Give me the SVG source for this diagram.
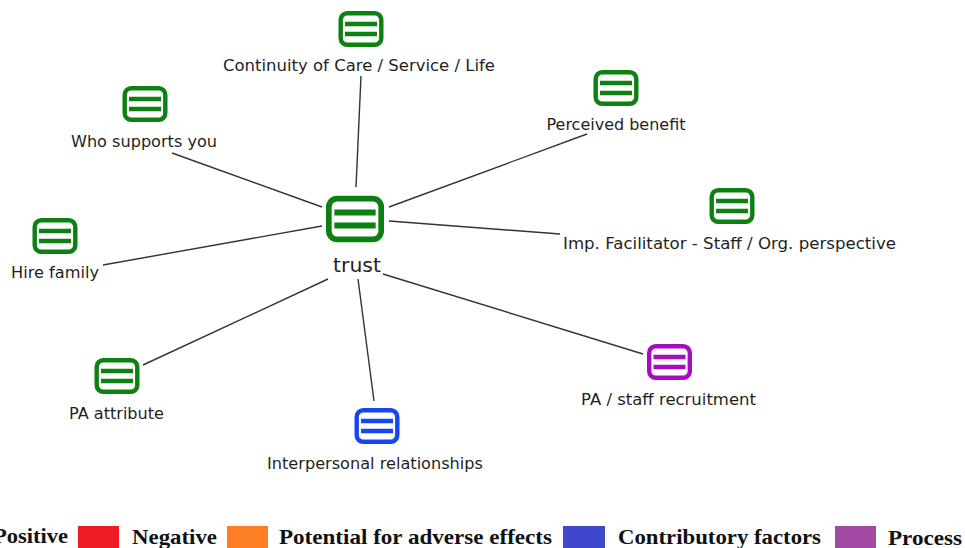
<svg xmlns="http://www.w3.org/2000/svg" width="965" height="548" viewBox="0 0 965 548">
<defs>
<style>
.l{fill:#1f1f1f;font-family:"DejaVu Sans",Verdana,sans-serif;font-size:16.300px;text-anchor:middle}
.k{fill:#111;font-family:"Liberation Serif",serif;font-size:21.500px;font-weight:bold}
.c line{stroke:#333;stroke-width:1.400}
.b{fill:#fff;stroke-width:4.400}
.g{stroke:#0c8010}.u{stroke:#1546f0}.p{stroke:#a80cc0}
</style>
<g id="ic"><rect class="b" x="-20.300" y="-15.800" width="40.600" height="31.600" rx="6.500"/><path d="M-16-5H16M-16 5H16" stroke-width="4.600" fill="none"/></g>
</defs>
<rect width="965" height="548" fill="#fff"/>
<g id="connectors" class="c">
<line x1="361" y1="76" x2="356" y2="187"/>
<line x1="172" y1="153" x2="322" y2="207"/>
<line x1="587" y1="134" x2="389" y2="207"/>
<line x1="389" y1="221" x2="560" y2="234"/>
<line x1="103" y1="265" x2="322" y2="226"/>
<line x1="143" y1="365" x2="328" y2="279"/>
<line x1="358" y1="279" x2="374" y2="401"/>
<line x1="383" y1="274" x2="643" y2="354"/>
</g>
<g id="n-trust"><g class="g"><use href="#ic" transform="translate(355 219) scale(1.290)"/></g><text class="l" x="357" y="272" style="font-size:20px" textLength="48" lengthAdjust="spacingAndGlyphs">trust</text></g>
<g id="n-continuity"><g class="g"><use href="#ic" transform="translate(361 29)"/></g><text class="l" x="359" y="71" textLength="272" lengthAdjust="spacingAndGlyphs">Continuity of Care / Service / Life</text></g>
<g id="n-who"><g class="g"><use href="#ic" transform="translate(145 104)"/></g><text class="l" x="144" y="147" textLength="146" lengthAdjust="spacingAndGlyphs">Who supports you</text></g>
<g id="n-benefit"><g class="g"><use href="#ic" transform="translate(616 88)"/></g><text class="l" x="616" y="130" textLength="139" lengthAdjust="spacingAndGlyphs">Perceived benefit</text></g>
<g id="n-imp"><g class="g"><use href="#ic" transform="translate(732 206)"/></g><text class="l" x="729.500" y="249" textLength="333" lengthAdjust="spacingAndGlyphs">Imp. Facilitator - Staff / Org. perspective</text></g>
<g id="n-hire"><g class="g"><use href="#ic" transform="translate(55 236)"/></g><text class="l" x="55" y="278" textLength="88" lengthAdjust="spacingAndGlyphs">Hire family</text></g>
<g id="n-pa"><g class="g"><use href="#ic" transform="translate(117 376)"/></g><text class="l" x="116.500" y="419" textLength="95" lengthAdjust="spacingAndGlyphs">PA attribute</text></g>
<g id="n-inter"><g class="u"><use href="#ic" transform="translate(377 426)"/></g><text class="l" x="375" y="469" textLength="216" lengthAdjust="spacingAndGlyphs">Interpersonal relationships</text></g>
<g id="n-recruit"><g class="p"><use href="#ic" transform="translate(669.500 362)"/></g><text class="l" x="668.500" y="405" textLength="175" lengthAdjust="spacingAndGlyphs">PA / staff recruitment</text></g>
<g id="legend">
<text class="k" x="-7" y="543" textLength="75" lengthAdjust="spacingAndGlyphs">Positive</text>
<rect x="78" y="526" width="41" height="22" fill="#ee1c25"/><text class="k" x="132" y="544" textLength="85" lengthAdjust="spacingAndGlyphs">Negative</text>
<rect x="227" y="526" width="41" height="22" fill="#fd7f23"/><text class="k" x="279" y="544" textLength="273" lengthAdjust="spacingAndGlyphs">Potential for adverse effects</text>
<rect x="563" y="526" width="42" height="22" fill="#3f47cc"/><text class="k" x="618" y="544" textLength="203" lengthAdjust="spacingAndGlyphs">Contributory factors</text>
<rect x="835" y="526" width="41" height="22" fill="#a349a4"/><text class="k" x="888" y="545" textLength="74" lengthAdjust="spacingAndGlyphs">Process</text>
</g>
</svg>
